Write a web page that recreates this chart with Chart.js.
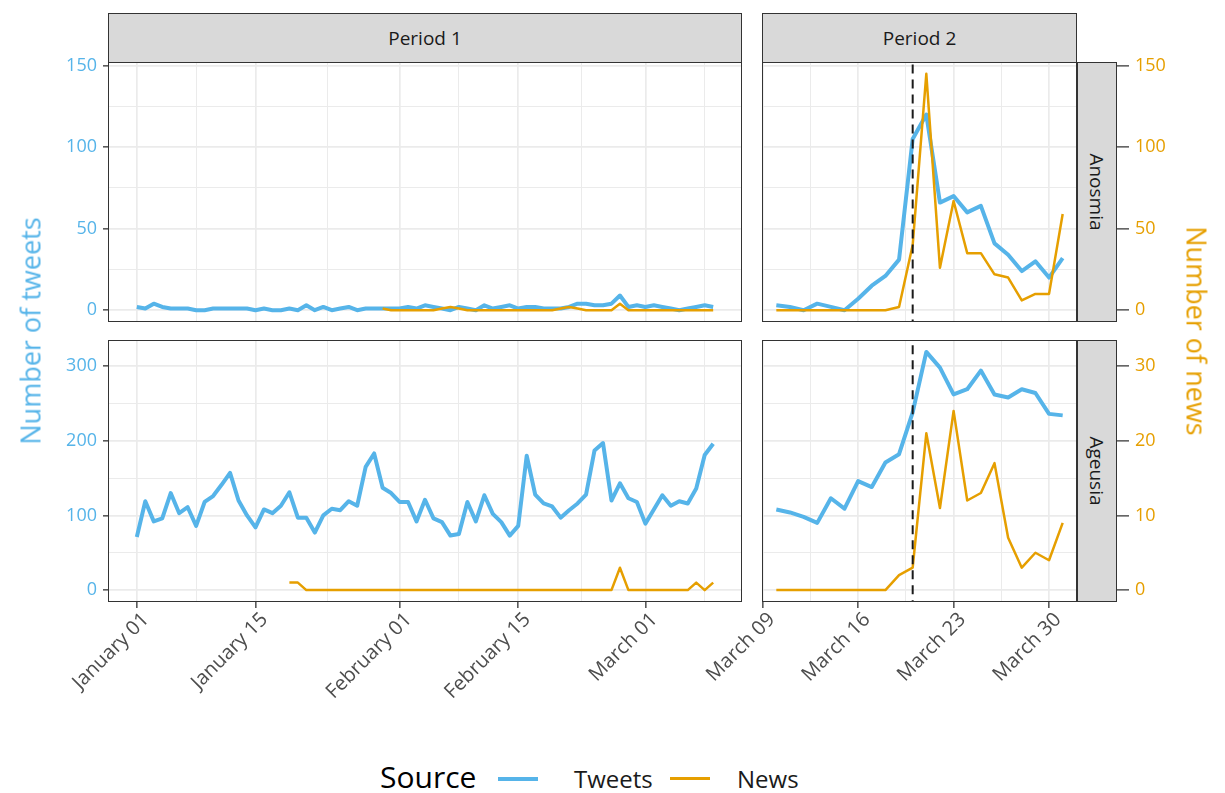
<!DOCTYPE html>
<html>
<head>
<meta charset="utf-8">
<script src="https://cdn.jsdelivr.net/npm/chart.js@4.4.1/dist/chart.umd.min.js"></script>
<style>
  body { margin: 0; background: #fff; font-family: "Open Sans", sans-serif; }
  #wrap { position: relative; width: 1225px; height: 793px; overflow: hidden; }
  canvas { position: absolute; }
  .strip { position: absolute; box-sizing: border-box; background: #d9d9d9; border: 1px solid #333;
           color: #1a1a1a; font-size: 19px; display: flex; align-items: center; justify-content: center; z-index: 2; }
  .strip.v span { transform: rotate(90deg); white-space: nowrap; }
  .panel { position: absolute; box-sizing: border-box; border: 1px solid #333; z-index: 2; pointer-events: none; }
  .title { position: absolute; white-space: nowrap; font-size: 27px; z-index: 2; }
  .legend { position: absolute; top: 756px; left: 0; width: 1225px; height: 40px; }
  .legend span { position: absolute; white-space: nowrap; }
  .legend i { position: absolute; display: block; width: 40px; }
</style>
</head>
<body>
<div id="wrap">
  <canvas id="tl" width="742" height="280" style="left:0;top:42px"></canvas>
  <canvas id="tr" width="580" height="280" style="left:600px;top:42px"></canvas>
  <canvas id="bl" width="742" height="360" style="left:0;top:340px"></canvas>
  <canvas id="br" width="580" height="360" style="left:600px;top:340px"></canvas>

  <div class="strip" style="left:108px;top:13px;width:634px;height:50px">Period 1</div>
  <div class="strip" style="left:762px;top:13px;width:315px;height:50px">Period 2</div>
  <div class="strip v" style="left:1077px;top:62px;width:40px;height:260px"><span>Anosmia</span></div>
  <div class="strip v" style="left:1077px;top:340px;width:40px;height:262px"><span>Ageusia</span></div>

  <div class="panel" style="left:108px;top:62px;width:634px;height:260px"></div>
  <div class="panel" style="left:762px;top:62px;width:315px;height:260px"></div>
  <div class="panel" style="left:108px;top:340px;width:634px;height:262px"></div>
  <div class="panel" style="left:762px;top:340px;width:315px;height:262px"></div>

  <div class="title" style="left:30px;top:331px;color:#56B4E9;transform:translate(-50%,-50%) rotate(-90deg)">Number of tweets</div>
  <div class="title" style="left:1197px;top:331px;color:#E69F00;transform:translate(-50%,-50%) rotate(90deg)">Number of news</div>

  <div class="legend">
    <span style="left:380px;top:0;font-size:30px;color:#000">Source</span>
    <i style="left:498px;top:21px;height:4px;background:#56B4E9"></i>
    <span style="left:574px;top:6px;font-size:24px;color:#1a1a1a">Tweets</span>
    <i style="left:670px;top:21px;height:3px;background:#E69F00"></i>
    <span style="left:737px;top:6px;font-size:24px;color:#1a1a1a">News</span>
  </div>
</div>

<script>
// Symptom mentions in tweets and news, split into two periods
const tweetColor = '#56B4E9';
const newsColor = '#E69F00';
const fontFamily = '"Open Sans", sans-serif';

const period1Start = '2020-01-01';
const period2Start = '2020-03-10';
const outbreakDate = '2020-03-20';

// x breaks (one extra each side so minor lines fall at midpoints)
const period1Breaks = ['2019-12-15', '2020-01-01', '2020-01-15', '2020-02-01', '2020-02-15', '2020-03-01', '2020-03-15'];
const period2Breaks = ['2020-03-02', '2020-03-09', '2020-03-16', '2020-03-23', '2020-03-30', '2020-04-06'];
const monthNames = ['January', 'February', 'March', 'April', 'May', 'June',
  'July', 'August', 'September', 'October', 'November', 'December'];

const anosmiaTicks = [0, 50, 100, 150];
const ageusiaTweetTicks = [0, 100, 200, 300];
const ageusiaNewsTicks = [0, 10, 20, 30];
const ageusiaNewsScale = 10;

// Anosmia
const anosmiaTweetsP1 = [
  2, 1, 4, 2, 1, 1, 1, 0, 0, 1,
  1, 1, 1, 1, 0, 1, 0, 0, 1, 0,
  3, 0, 2, 0, 1, 2, 0, 1, 1, 1,
  1, 1, 2, 1, 3, 2, 1, 0, 2, 1,
  0, 3, 1, 2, 3, 1, 2, 2, 1, 1,
  1, 2, 4, 4, 3, 3, 4, 9, 2, 3,
  2, 3, 2, 1, 0, 1, 2, 3, 2
];
const anosmiaNewsP1Start = '2020-01-30';
const anosmiaNewsP1 = [
  1, 0, 0, 0, 0, 0, 0, 1, 2, 1,
  0, 0, 0, 0, 0, 0, 0, 0, 0, 0,
  0, 1, 2, 1, 0, 0, 0, 0, 4, 0,
  0, 0, 0, 0, 0, 0, 0, 0, 0, 0
];
const anosmiaTweetsP2 = [3, 2, 0, 4, 2, 0, 7, 15, 21, 31, 105, 120, 66, 70, 60, 64, 41, 34, 24, 30, 20, 32];
const anosmiaNewsP2 = [0, 0, 0, 0, 0, 0, 0, 0, 0, 2, 40, 145, 26, 67, 35, 35, 22, 20, 6, 10, 10, 59];

// Ageusia
const ageusiaTweetsP1 = [
  71, 119, 92, 96, 130, 103, 111, 86, 118, 126,
  141, 157, 120, 100, 84, 108, 103, 113, 131, 97,
  97, 77, 100, 109, 107, 119, 113, 165, 183, 137,
  130, 118, 118, 92, 121, 96, 91, 73, 75, 118,
  92, 127, 102, 91, 73, 86, 180, 128, 116, 112,
  97, 107, 116, 128, 187, 197, 120, 143, 123, 118,
  89, 108, 127, 113, 119, 116, 136, 181, 196
];
const ageusiaNewsP1Start = '2020-01-19';
const ageusiaNewsP1 = [
  1, 1, 0, 0, 0, 0, 0, 0, 0, 0,
  0, 0, 0, 0, 0, 0, 0, 0, 0, 0,
  0, 0, 0, 0, 0, 0, 0, 0, 0, 0,
  0, 0, 0, 0, 0, 0, 0, 0, 0, 3,
  0, 0, 0, 0, 0, 0, 0, 0, 1, 0,
  1
];
const ageusiaTweetsP2 = [108, 104, 98, 90, 123, 109, 146, 138, 171, 182, 238, 319, 298, 262, 269, 294, 262, 258, 269, 264, 236, 234];
const ageusiaNewsP2 = [0, 0, 0, 0, 0, 0, 0, 0, 0, 2, 3, 21, 11, 24, 12, 13, 17, 7, 3, 5, 4, 9];

function dayNum(s) {
  return Math.round((Date.parse(s + 'T00:00:00Z') - Date.parse('2020-01-01T00:00:00Z')) / 86400000);
}
function points(start, values) {
  const d0 = dayNum(start);
  return values.map((v, i) => ({ x: d0 + i, y: v }));
}
function dateLabel(day) {
  const d = new Date(Date.UTC(2020, 0, 1 + day));
  return monthNames[d.getUTCMonth()] + ' ' + String(d.getUTCDate()).padStart(2, '0');
}
function expand(lo, hi) {
  const pad = (hi - lo) * 0.05;
  return [lo - pad, hi + pad];
}

const xRange1 = expand(dayNum(period1Start), dayNum(period1Start) + ageusiaTweetsP1.length - 1);
const xRange2 = expand(dayNum(period2Start), dayNum(period2Start) + ageusiaTweetsP2.length - 1);
const yAnosmia = expand(0, Math.max(...anosmiaTweetsP1, ...anosmiaNewsP1, ...anosmiaTweetsP2, ...anosmiaNewsP2));
const yAgeusia = expand(0, Math.max(...ageusiaTweetsP1, ...ageusiaTweetsP2,
  ...ageusiaNewsP1.map(v => v * ageusiaNewsScale), ...ageusiaNewsP2.map(v => v * ageusiaNewsScale)));

function gridFor(majorSet, tickLength) {
  return {
    color: '#ebebeb',
    lineWidth: ctx => (ctx.tick && majorSet.has(ctx.tick.value)) ? 1.7 : 1,
    tickColor: ctx => (ctx.tick && majorSet.has(ctx.tick.value)) ? '#333333' : 'rgba(0,0,0,0)',
    tickWidth: 1.3,
    tickLength: tickLength,
    drawTicks: tickLength > 0
  };
}

function xScale(range, breaks, showLabels) {
  const days = breaks.map(dayNum);
  const inRange = v => v >= range[0] && v <= range[1];
  const majors = days.filter(inRange);
  const minors = days.slice(1).map((d, i) => (d + days[i]) / 2).filter(inRange);
  const majorSet = new Set(majors);
  return {
    type: 'linear', min: range[0], max: range[1],
    afterBuildTicks: s => { s.ticks = majors.concat(minors).sort((a, b) => a - b).map(v => ({ value: v })); },
    grid: gridFor(majorSet, showLabels ? 6 : 0),
    border: { display: false },
    ticks: {
      display: showLabels, autoSkip: false, minRotation: 45, maxRotation: 45, padding: 0, labelOffset: 9,
      color: '#4d4d4d', font: { family: fontFamily, size: 20 },
      callback: v => majorSet.has(v) ? dateLabel(v) : ''
    },
    afterFit: s => { s.height = showLabels ? 98 : 0; s.paddingLeft = 0; s.paddingRight = 0; }
  };
}

function yScale(range, majors, o) {
  const minors = majors.slice(1).map((v, i) => (v + majors[i]) / 2);
  if (o.withMinor) minors.push(majors[majors.length - 1] + (majors[1] - majors[0]) / 2);
  const ticks = majors.concat(o.withMinor ? minors : []).filter(v => v >= range[0] && v <= range[1]);
  const majorSet = new Set(majors);
  const grid = gridFor(majorSet, o.tickLength);
  grid.drawOnChartArea = o.onArea;
  return {
    type: 'linear', position: o.side, display: o.display !== false,
    min: range[0], max: range[1],
    afterBuildTicks: s => { s.ticks = ticks.slice().sort((a, b) => a - b).map(v => ({ value: v })); },
    grid: grid,
    border: { display: false },
    ticks: {
      display: o.labels, padding: 6, color: o.color,
      font: { family: fontFamily, size: 18 },
      callback: v => majorSet.has(v) ? String(v) : ''
    },
    afterFit: s => { s.width = o.width; s.paddingTop = 0; s.paddingBottom = 0; }
  };
}

function series(data, color, width, axis) {
  return {
    data: data, yAxisID: axis, borderColor: color, borderWidth: width,
    pointRadius: 0, tension: 0, borderJoinStyle: 'round', clip: 0, fill: false
  };
}

function marker(yRange) {
  const d = dayNum(outbreakDate);
  return {
    data: [{ x: d, y: yRange[0] - 50 }, { x: d, y: yRange[1] + 50 }], yAxisID: 'y',
    borderColor: '#1a1a1a', borderWidth: 2, borderDash: [9, 6], pointRadius: 0, clip: 0
  };
}

function makeChart(id, datasets, scales, topPad) {
  return new Chart(document.getElementById(id), {
    type: 'line',
    data: { datasets: datasets },
    options: {
      responsive: false, animation: false, events: [],
      layout: { padding: { top: topPad, left: 0, right: 0, bottom: 0 } },
      plugins: { legend: { display: false }, tooltip: { enabled: false } },
      scales: scales
    }
  });
}

// Anosmia, period 1
makeChart('tl', [
  series(points(anosmiaNewsP1Start, anosmiaNewsP1), newsColor, 2.5, 'y'),
  series(points(period1Start, anosmiaTweetsP1), tweetColor, 4, 'y')
], {
  x: xScale(xRange1, period1Breaks, false),
  y: yScale(yAnosmia, anosmiaTicks, { side: 'left', labels: true, color: tweetColor, width: 108, tickLength: 5, onArea: true, withMinor: true })
}, 20);

// Anosmia, period 2
makeChart('tr', [
  marker(yAnosmia),
  series(points(period2Start, anosmiaNewsP2), newsColor, 2.5, 'y2'),
  series(points(period2Start, anosmiaTweetsP2), tweetColor, 4, 'y')
], {
  x: xScale(xRange2, period2Breaks, false),
  y: yScale(yAnosmia, anosmiaTicks, { side: 'left', labels: false, color: tweetColor, width: 162, tickLength: 0, onArea: true, withMinor: true }),
  y2: yScale(yAnosmia, anosmiaTicks, { side: 'right', labels: true, color: newsColor, width: 103, tickLength: 52, onArea: false, withMinor: false })
}, 20);

// Ageusia, period 1
const ageusiaNewsRange = yAgeusia.map(v => v / ageusiaNewsScale);
makeChart('bl', [
  series(points(ageusiaNewsP1Start, ageusiaNewsP1), newsColor, 2.5, 'y2'),
  series(points(period1Start, ageusiaTweetsP1), tweetColor, 4, 'y')
], {
  x: xScale(xRange1, period1Breaks, true),
  y: yScale(yAgeusia, ageusiaTweetTicks, { side: 'left', labels: true, color: tweetColor, width: 108, tickLength: 5, onArea: true, withMinor: true }),
  y2: yScale(ageusiaNewsRange, ageusiaNewsTicks, { side: 'right', display: false, labels: false, color: newsColor, width: 0, tickLength: 0, onArea: false, withMinor: false })
}, 0);

// Ageusia, period 2
makeChart('br', [
  marker(yAgeusia),
  series(points(period2Start, ageusiaNewsP2), newsColor, 2.5, 'y2'),
  series(points(period2Start, ageusiaTweetsP2), tweetColor, 4, 'y')
], {
  x: xScale(xRange2, period2Breaks, true),
  y: yScale(yAgeusia, ageusiaTweetTicks, { side: 'left', labels: false, color: tweetColor, width: 162, tickLength: 0, onArea: true, withMinor: true }),
  y2: yScale(ageusiaNewsRange, ageusiaNewsTicks, { side: 'right', labels: true, color: newsColor, width: 103, tickLength: 52, onArea: false, withMinor: false })
}, 0);
</script>
</body>
</html>
